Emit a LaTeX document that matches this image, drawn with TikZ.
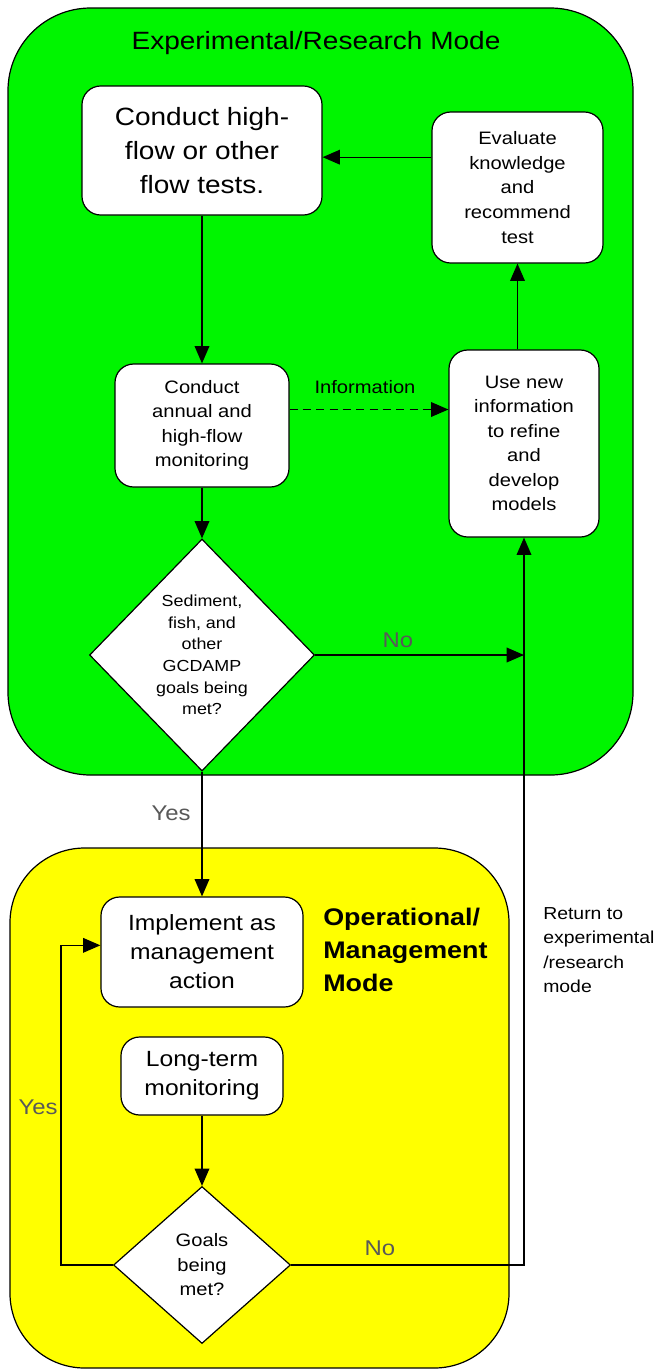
\documentclass[tikz,border=0pt]{standalone}
\usepackage{fontspec}
\setmainfont[FakeStretch=1.12]{Liberation Sans}
\usetikzlibrary{shapes.geometric,arrows.meta}
\definecolor{expgreen}{RGB}{0,245,0}
\definecolor{opyellow}{RGB}{255,255,0}

\begin{document}
\begin{tikzpicture}[x=0.75pt,y=-0.75pt,
  >={Triangle[length=13pt,width=11pt]},
  box/.style={draw,fill=white,rounded corners=14pt,line width=0.9pt,align=center,inner sep=2pt},
  choice/.style={draw,fill=white,diamond,line width=0.9pt,align=center,inner sep=0pt},
  small/.style={font=\fontsize{13.5}{18.4}\selectfont},
  mid/.style={font=\fontsize{16.5}{21.75}\selectfont},
  big/.style={font=\fontsize{18.75}{25.5}\selectfont},
  answer/.style={font=\fontsize{16}{19}\selectfont,text=black!65},
  conn/.style={line width=1pt}]

\useasboundingbox (0,0) rectangle (657,1371);
\fill[white] (0,0) rectangle (657,1371);

% the two modes
\draw[fill=expgreen,rounded corners=62pt,line width=0.9pt] (8,8) rectangle (633,775);
\draw[fill=opyellow,rounded corners=56pt,line width=0.9pt] (10,848) rectangle (509,1368);

\node[big] (exptitle) at (316,43) {Experimental/Research Mode};

% experimental/research steps
\node[box,big,minimum width=180pt,minimum height=96.75pt] (tests) at (202,150.5) {Conduct high-\\flow or other\\flow tests.};
\node[box,small,minimum width=128.25pt,minimum height=113.25pt] (evaluate) at (517.5,187.5) {Evaluate\\knowledge\\and\\recommend\\test};
\node[box,small,minimum width=130.5pt,minimum height=92.25pt] (annual) at (202,425.5) {Conduct\\annual and\\high-flow\\monitoring};
\node[box,small,minimum width=112.5pt,minimum height=140.25pt] (models) at (524,443.5) {Use new\\information\\to refine\\and\\develop\\models};
\node[choice,font=\fontsize{12}{16.2}\selectfont,minimum width=168.75pt,minimum height=174pt] (goals) at (202,655) {Sediment,\\fish, and\\other\\GCDAMP\\goals being\\met?};

% operational/management steps
\node[box,mid,minimum width=151.5pt,minimum height=82.5pt] (implement) at (202,952) {Implement as\\management\\action};
\node[box,mid,minimum width=121.5pt,minimum height=58.5pt] (longterm) at (202,1076) {Long-term\\monitoring};
\node[choice,small,minimum width=132.75pt,minimum height=117.75pt] (met) at (202,1265) {Goals\\being\\met?};
\node[anchor=west,align=left,inner sep=0pt,font=\bfseries\fontsize{18}{24.75}\selectfont] (optitle) at (323,950) {Operational/\\Management\\Mode};
\node[anchor=west,align=left,inner sep=0pt,font=\fontsize{13}{18.4}\selectfont] (return) at (543,950) {Return to\\experimental\\/research\\mode};

% labels
\node[small] (infolabel) at (365,387) {Information};
\node[answer] (no1) at (398,640) {No};
\node[answer] (yes1) at (171,813) {Yes};
\node[answer] (yes2) at (38,1107) {Yes};
\node[answer] (no2) at (380,1248) {No};

% connectors
\coordinate (fromeval) at ([yshift=-5pt]tests.east);
\coordinate (info) at ([yshift=12pt]annual.east);
\coordinate (back) at (models.south |- met.east);
\coordinate (yesturn) at ([yshift=5pt]implement.west);

\draw[conn,->] (fromeval -| evaluate.west) -- (fromeval);
\draw[conn,->] (tests.south) -- (annual.north);
\draw[conn,->,dash pattern=on 6pt off 4pt] (info) -- (info -| models.west);
\draw[conn,->] (models.north -| evaluate.south) -- (evaluate.south);
\draw[conn,->] (annual.south) -- (goals.north);
\draw[conn,->] (goals.east) -- (goals.east -| back);
\draw[conn,->] (goals.south) -- (implement.north);
\draw[conn,->] (longterm.south) -- (met.north);
\draw[conn,->] (met.west) -- ++(-52,0) |- (yesturn);
\draw[conn,->] (met.east) -- (back) -- (models.south);

\end{tikzpicture}
\end{document}
